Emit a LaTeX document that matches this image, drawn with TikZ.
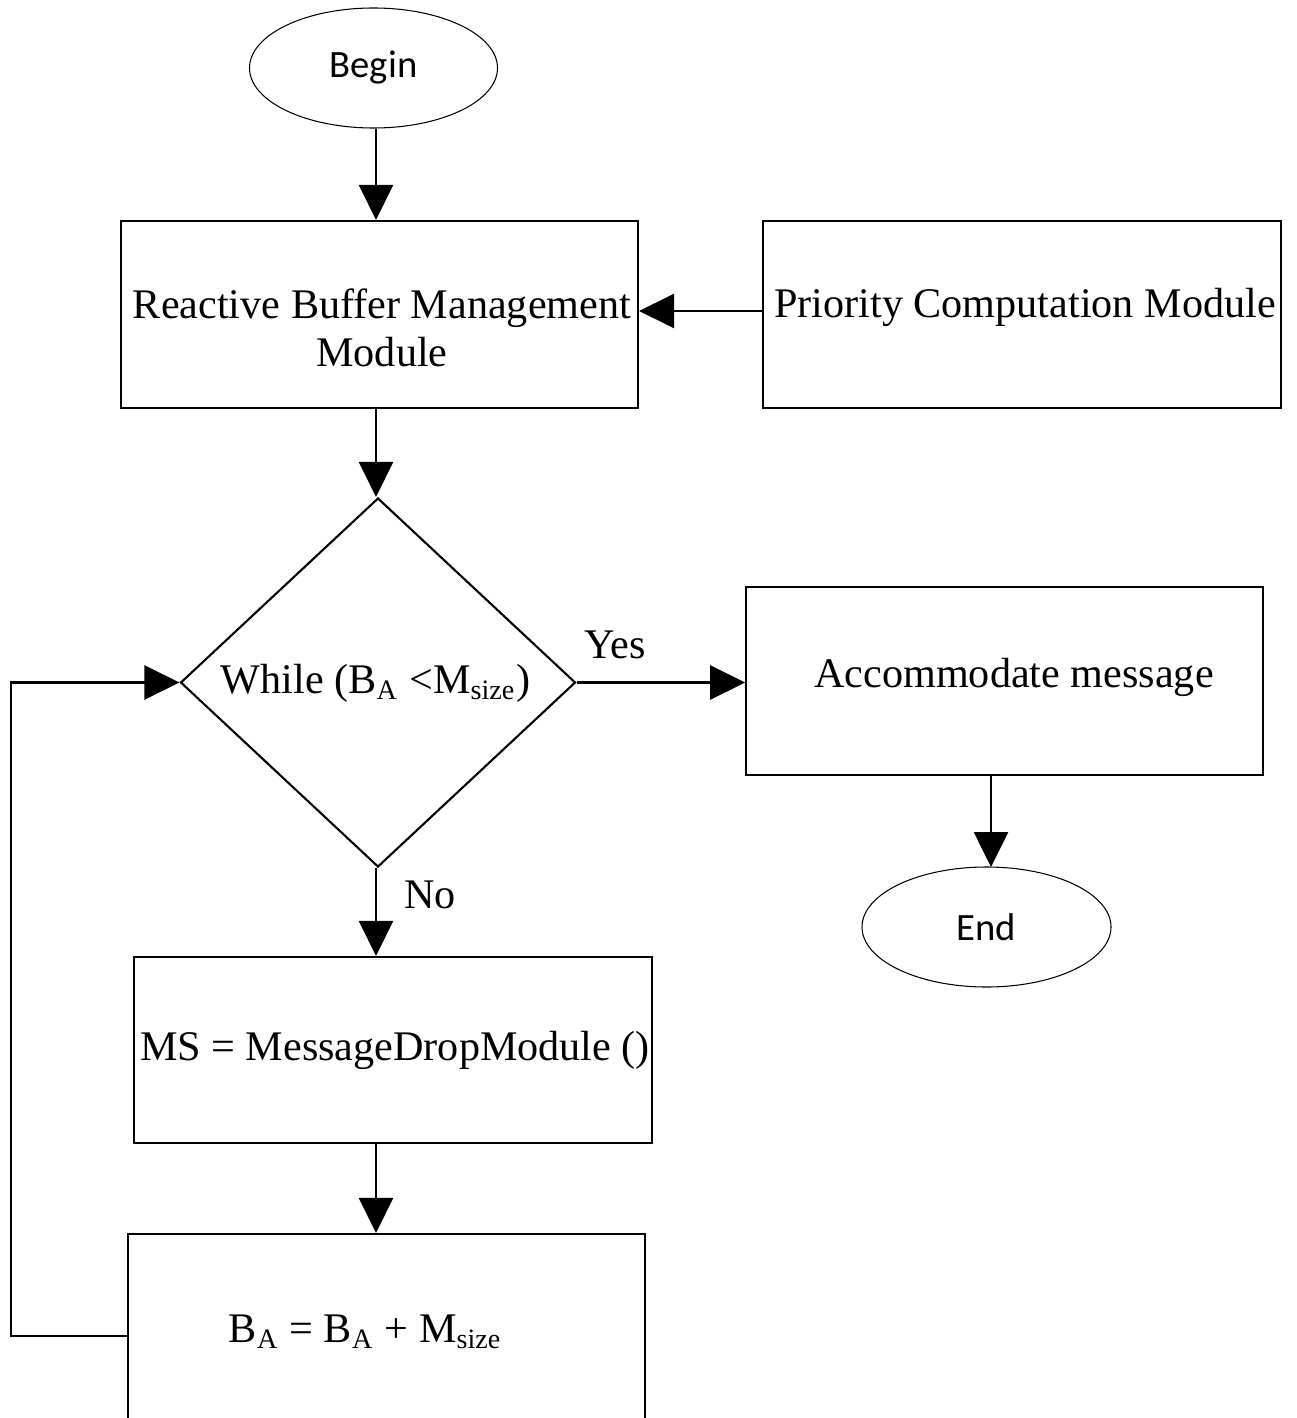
\documentclass[tikz,border=0pt]{standalone}
\usepackage{fontspec}
\setmainfont{Liberation Serif}
\newfontfamily\termfont{Carlito}
\usepackage{tikz}
\usetikzlibrary{shapes,arrows.meta}

\begin{document}
\begin{tikzpicture}[
    box/.style={draw,line width=0.6pt,minimum width=5.17cm,minimum height=1.87cm,inner sep=0pt},
    term/.style={draw,ellipse,line width=0.3pt,minimum width=2.48cm,minimum height=1.2cm,
      inner sep=0pt,font=\termfont\fontsize{11}{13}\selectfont},
    txt/.style={font=\fontsize{12}{13.8}\selectfont,inner sep=0pt},
    arr/.style={line width=0.7pt,-{Triangle[length=0.35cm,width=0.34cm]}}]
        \useasboundingbox (0,0) rectangle (12.96,-14.18);
        \coordinate (spine) at (3.76,0); % main vertical line
        \node[term] (begin) at (3.735,-0.68) {Begin};
        \node[box] (rbm) at (3.795,-3.145) {}; % buffer management
        \node[txt,align=center] at (3.82,-3.28) {Reactive Buffer Management\\Module};
        \node[box,minimum width=5.18cm] (pcm) at (10.22,-3.145) {}; % priority
        \node[txt,anchor=base] at (10.25,-3.18) {Priority Computation Module};
        \node[draw,diamond,line width=0.6pt,minimum width=3.95cm,minimum height=3.69cm,
          inner sep=0pt] (loop) at (3.78,-6.825) {}; % while test
        \node[txt,anchor=base] at (3.755,-6.93) {While (B\textsubscript{A} <M\textsubscript{size})};
        \node[box,minimum height=1.88cm] (acc) at (10.0475,-6.81) {};
        \node[txt,anchor=base] at (10.14,-6.87) {Accommodate message};
        \node[term,minimum width=2.49cm] (end) at (9.865,-9.27) {End};
        \node[box,minimum width=5.18cm,minimum height=1.86cm] (ms) at (3.93,-10.5) {}; % drop
        \node[txt,anchor=base] at (3.95,-10.6) {MS = MessageDropModule ()};
        \node[box,minimum height=2.04cm] (ba) at (3.865,-13.36) {}; % update
        \node[txt,anchor=base] at (3.655,-13.42)
          {B\textsubscript{A} = B\textsubscript{A} + M\textsubscript{size}};
        \draw[arr] (begin.south -| spine) -- (rbm.north -| spine);
        \draw[arr] (pcm.west |- 0,-3.11) -- (rbm.east |- 0,-3.11);
        \draw[arr] (rbm.south -| spine) -- (loop.north -| spine);
        \draw[arr] (loop.east) -- (loop.east -| acc.west)
          node[txt,pos=0.23,above=0.22cm] {Yes};
        \draw[arr] (acc.south -| end.north) ++(0.045,0) -- ++(0,-0.91);
        \draw[arr] (loop.south -| spine) -- (ms.north -| spine)
          node[txt,pos=0.3,right=0.27cm] {No};
        \draw[arr] (ms.south -| spine) -- (ba.north -| spine);
        \draw[arr] (ba.west) -- ++(-1.16,0) |- (loop.west); % back to test
\end{tikzpicture}
\end{document}
